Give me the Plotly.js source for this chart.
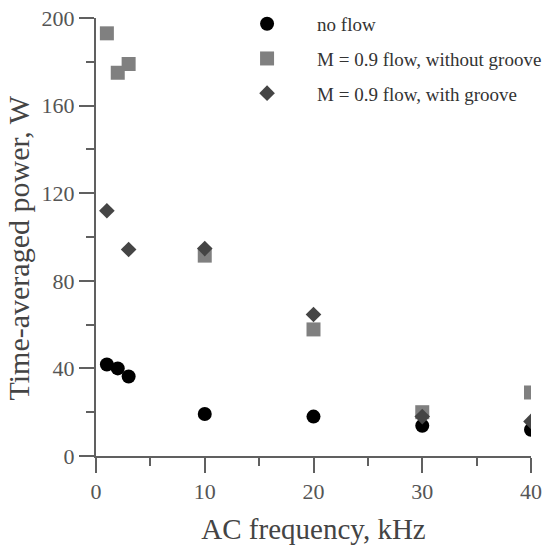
<!DOCTYPE html>
<html><head><meta charset="utf-8">
<script src="https://cdn.plot.ly/plotly-3.0.1.min.js"></script>
<style>html,body{margin:0;padding:0;background:#fff}</style>
</head><body><div id="chart" style="width:544px;height:546px"></div>
<script>
const noFlowX = [1, 2, 3, 10, 20, 30, 40];
const noFlowY = [41.8, 40, 36.3, 19.2, 18, 13.8, 12];
const noGrooveX = [1, 2, 3, 10, 20, 30, 40];
const noGrooveY = [193, 175, 179, 91.5, 57.8, 20, 29];
const grooveX = [1, 3, 10, 20, 30, 40];
const grooveY = [112, 94.3, 94.7, 64.6, 18, 15.8];
const names = ["no flow", "M = 0.9 flow, without groove", "M = 0.9 flow, with groove"];
const xTicks = [0, 10, 20, 30, 40];
const yTicks = [0, 40, 80, 120, 160, 200];
const xTitle = "AC frequency, kHz";
const yTitle = "Time-averaged power, W";

const font = "Liberation Serif, Times New Roman, serif";
const traces = [
  {x: noFlowX, y: noFlowY, name: names[0], legendgroup: "a", mode: "markers", type: "scatter",
   marker: {symbol: "circle", size: 14, color: "#000000"}},
  {x: noGrooveX, y: noGrooveY, name: names[1], legendgroup: "b", mode: "markers", type: "scatter",
   marker: {symbol: "square", size: 14, color: "#808080"}},
  {x: grooveX, y: grooveY, name: names[2], legendgroup: "c", mode: "markers", type: "scatter",
   marker: {symbol: "diamond", size: 12, color: "#454545"}}
];
const axisCommon = {
  showgrid: false, zeroline: false, showline: true, linecolor: "#606060", linewidth: 2,
  ticks: "outside", ticklen: 15, tickwidth: 2, tickcolor: "#606060",
  tickfont: {family: font, size: 22, color: "#555555"},
  minor: {ticks: "outside", ticklen: 8, tickwidth: 2, tickcolor: "#606060"}
};
const layout = {
  width: 544, height: 546,
  margin: {l: 96, r: 13, t: 18, b: 90, autoexpand: false},
  paper_bgcolor: "#ffffff", plot_bgcolor: "#ffffff",
  font: {family: font, color: "#444444"},
  showlegend: true,
  legend: {xref: "container", yref: "container", x: 0.399, y: 0.991, xanchor: "left", yanchor: "top",
           bgcolor: "rgba(0,0,0,0)",
           font: {family: font, size: 19, color: "#333333"}, tracegroupgap: 7, itemwidth: 90},
  xaxis: Object.assign({}, axisCommon, {range: [0, 40], tickvals: xTicks, ticktext: xTicks.map(String),
    minor: Object.assign({}, axisCommon.minor, {dtick: 5, tick0: 0}),
    title: {text: xTitle, font: {family: font, size: 29, color: "#444444"}, standoff: 15}}),
  yaxis: Object.assign({}, axisCommon, {range: [0, 200], tickvals: yTicks, ticktext: yTicks.map(String),
    minor: Object.assign({}, axisCommon.minor, {dtick: 20, tick0: 0})}),
  annotations: [{text: yTitle, xref: "paper", yref: "paper", x: -0.178, y: 0.475,
    xanchor: "center", yanchor: "middle", textangle: -90, showarrow: false,
    font: {family: font, size: 30, color: "#444444"}}]
};
Plotly.newPlot("chart", traces, layout, {displayModeBar: false, staticPlot: true});
</script></body></html>
